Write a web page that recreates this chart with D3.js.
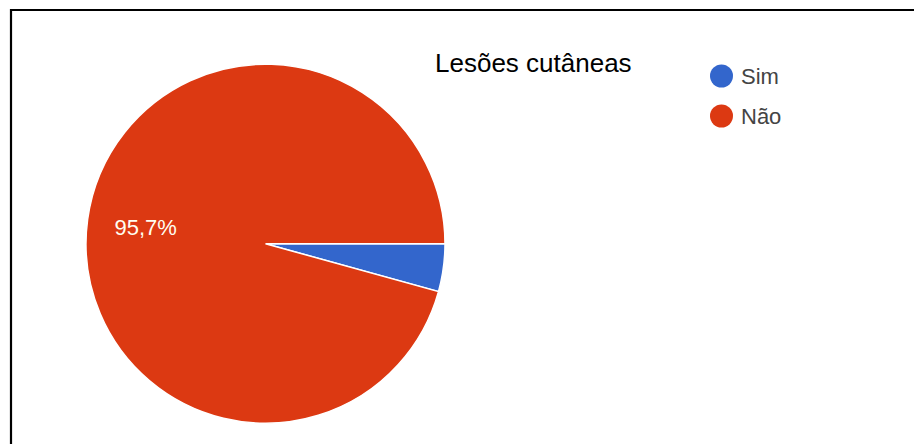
<!DOCTYPE html>
<html><head><meta charset="utf-8">
<script src="https://cdn.jsdelivr.net/npm/d3@7"></script>
<style>html,body{margin:0;padding:0;background:#fff;}svg{display:block;}</style>
</head><body>
<svg id="c" width="914" height="444"></svg>
<script>
const categories = ["Sim", "Não"];
const values = [4.3, 95.7];
const colors = ["#3366cc", "#dc3912"];
const title = "Lesões cutâneas";

const svg = d3.select("#c");
const W = 914, H = 444;
svg.append("rect").attr("width", W).attr("height", H).attr("fill", "#fff");
// frame (top and left borders)
svg.append("path").attr("d", "M11,444 V10 H914").attr("fill", "none").attr("stroke", "#000").attr("stroke-width", 2.2);

const cx = 265.5, cy = 243.7, r = 179.5;
const data = categories.map((c, i) => ({cat: c, value: values[i]}));
const pie = d3.pie().value(d => d.value).sort(null)
  .startAngle(Math.PI / 2).endAngle(Math.PI / 2 + 2 * Math.PI);
const arcs = pie(data);
const color = d3.scaleOrdinal().domain(categories).range(colors);
const arc = d3.arc().innerRadius(0).outerRadius(r);
const labelArc = d3.arc().innerRadius(121).outerRadius(121);

const g = svg.append("g").attr("transform", `translate(${cx},${cy})`);
g.selectAll("path.slice").data(arcs).join("path").attr("class", "slice")
  .attr("d", arc).attr("fill", d => color(d.data.cat))
  .attr("stroke", "#fff").attr("stroke-width", 1.5);

const total = d3.sum(values);
g.selectAll("text.lbl").data(arcs.filter(d => d.data.value / total > 0.05)).join("text")
  .attr("class", "lbl")
  .attr("transform", d => { const [x, y] = labelArc.centroid(d); return `translate(${x},${y})`; })
  .attr("text-anchor", "middle").attr("dy", "0.36em")
  .attr("font-family", "Liberation Sans, Arial, sans-serif").attr("font-size", 22)
  .attr("fill", "#fffdf0")
  .text(d => d3.format(".1f")(d.data.value / total * 100).replace(".", ",") + "%");

svg.append("text").attr("x", 435).attr("y", 72)
  .attr("font-family", "Liberation Sans, Arial, sans-serif").attr("font-size", 26)
  .attr("fill", "#000").text(title);

const leg = svg.append("g");
const ly = d3.scalePoint().domain(categories).range([76, 116]);
leg.selectAll("circle").data(categories).join("circle")
  .attr("cx", 721.5).attr("cy", d => ly(d)).attr("r", 11.5).attr("fill", d => color(d));
leg.selectAll("text").data(categories).join("text")
  .attr("x", 741).attr("y", d => ly(d)).attr("dy", "0.36em")
  .attr("font-family", "Liberation Sans, Arial, sans-serif").attr("font-size", 22)
  .attr("fill", "#444").text(d => d);
</script>
</body></html>
